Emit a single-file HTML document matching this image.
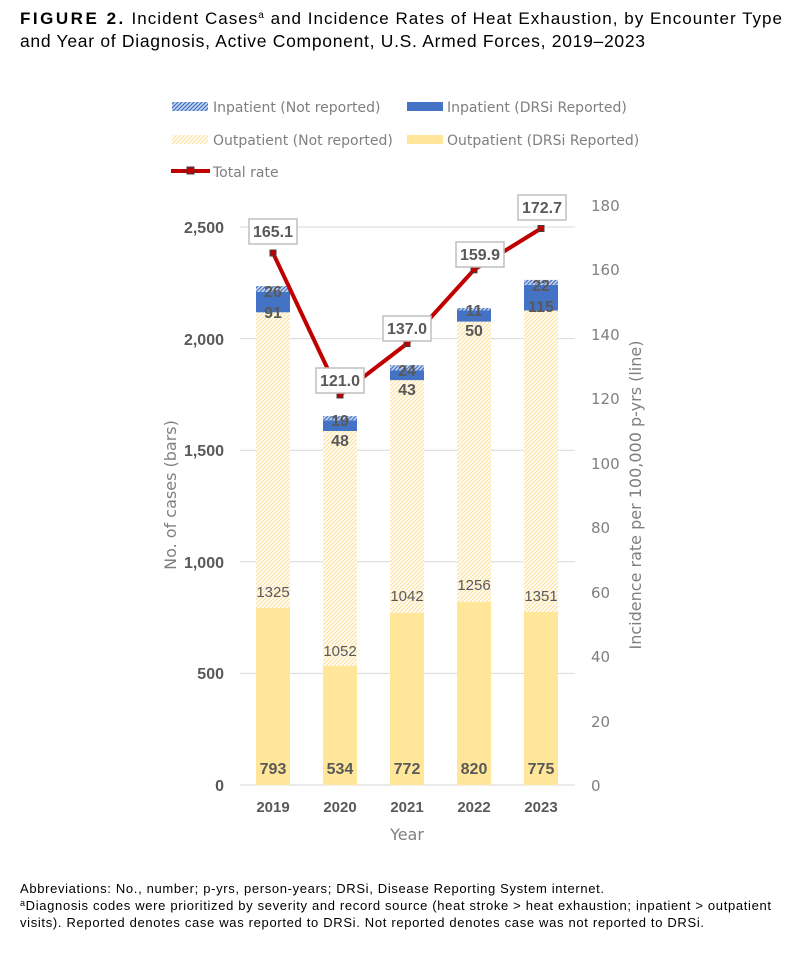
<!DOCTYPE html>
<html><head><meta charset="utf-8"><style>
body{margin:0;background:#fff;width:800px;height:950px;overflow:hidden;font-family:"Liberation Sans",sans-serif}
</style></head><body>
<svg width="800" height="950" xmlns="http://www.w3.org/2000/svg">
<defs>
<pattern id="py" width="4" height="4" patternUnits="userSpaceOnUse"><rect width="4" height="4" fill="#fff"/><path d="M0 4L4 0M-1 1L1 -1M3 5L5 3" stroke="#fde2a0" stroke-width="1.2"/></pattern>
<pattern id="pb" width="4" height="4" patternUnits="userSpaceOnUse"><rect width="4" height="4" fill="#c9d6f0"/><path d="M0 4L4 0M-1 1L1 -1M3 5L5 3" stroke="#4472c4" stroke-width="1.2"/></pattern>
</defs>
<text x="20" y="24" font-size="17" fill="#000" textLength="762" lengthAdjust="spacing"><tspan font-weight="bold" letter-spacing="1.5">FIGURE 2.</tspan> Incident Cases<tspan font-size="10" dy="-6">a</tspan><tspan dy="6"> and Incidence Rates of Heat Exhaustion, by Encounter Type</tspan></text>
<text x="20" y="47" font-size="17.5" fill="#000" textLength="625" lengthAdjust="spacing">and Year of Diagnosis, Active Component, U.S. Armed Forces, 2019–2023</text>
<g font-family="'DejaVu Sans',sans-serif" font-size="14" fill="#7f7f7f">
<rect x="172" y="102" width="36" height="9" fill="url(#pb)"/><text x="213" y="112">Inpatient (Not reported)</text>
<rect x="407" y="102" width="36" height="9" fill="#4472c4"/><text x="447" y="112">Inpatient (DRSi Reported)</text>
<rect x="172" y="135" width="36" height="9" fill="url(#py)"/><text x="213" y="145">Outpatient (Not reported)</text>
<rect x="407" y="135" width="36" height="9" fill="#ffe699"/><text x="447" y="145">Outpatient (DRSi Reported)</text>
<line x1="171" y1="171" x2="210" y2="171" stroke="#c00000" stroke-width="4"/><rect x="187" y="167" width="7" height="7" fill="#c00000" stroke="#404040"/><text x="213" y="177">Total rate</text>
</g>
<g stroke="#d9d9d9" stroke-width="1">
<line x1="240" y1="673.4" x2="575" y2="673.4"/><line x1="240" y1="561.8" x2="575" y2="561.8"/><line x1="240" y1="450.2" x2="575" y2="450.2"/><line x1="240" y1="338.6" x2="575" y2="338.6"/><line x1="240" y1="227" x2="575" y2="227"/>
</g>
<line x1="240" y1="785" x2="575" y2="785" stroke="#d9d9d9"/>
<g font-size="16" font-weight="bold" fill="#595959" text-anchor="end" font-family="'Liberation Sans',sans-serif">
<text x="224" y="791">0</text><text x="224" y="679">500</text><text x="224" y="568">1,000</text><text x="224" y="456">1,500</text><text x="224" y="345">2,000</text><text x="224" y="233">2,500</text>
</g>
<g font-size="15" fill="#7f7f7f" font-family="'DejaVu Sans',sans-serif">
<text x="591" y="791">0</text><text x="591" y="727">20</text><text x="591" y="662">40</text><text x="591" y="598">60</text><text x="591" y="533">80</text><text x="591" y="469">100</text><text x="591" y="404">120</text><text x="591" y="340">140</text><text x="591" y="275">160</text><text x="591" y="211">180</text>
</g>
<text transform="translate(176,495) rotate(-90)" font-size="16" fill="#7f7f7f" text-anchor="middle" font-family="'DejaVu Sans',sans-serif">No. of cases (bars)</text>
<text transform="translate(641,495) rotate(-90)" font-size="16" fill="#7f7f7f" text-anchor="middle" font-family="'DejaVu Sans',sans-serif">Incidence rate per 100,000 p-yrs (line)</text>
<g>
<rect x="256" y="608" width="34" height="177" fill="#ffe699"/><rect x="256" y="312.3" width="34" height="295.7" fill="url(#py)"/><rect x="256" y="291.9" width="34" height="20.4" fill="#4472c4"/><rect x="256" y="286.1" width="34" height="5.8" fill="url(#pb)"/>
<rect x="323" y="665.8" width="34" height="119.2" fill="#ffe699"/><rect x="323" y="431" width="34" height="234.8" fill="url(#py)"/><rect x="323" y="420.3" width="34" height="10.7" fill="#4472c4"/><rect x="323" y="416.1" width="34" height="4.2" fill="url(#pb)"/>
<rect x="390" y="612.7" width="34" height="172.3" fill="#ffe699"/><rect x="390" y="380.1" width="34" height="232.6" fill="url(#py)"/><rect x="390" y="370.5" width="34" height="9.6" fill="#4472c4"/><rect x="390" y="365.2" width="34" height="5.3" fill="url(#pb)"/>
<rect x="457" y="602" width="34" height="183" fill="#ffe699"/><rect x="457" y="321.6" width="34" height="280.4" fill="url(#py)"/><rect x="457" y="310.5" width="34" height="11.1" fill="#4472c4"/><rect x="457" y="308" width="34" height="2.5" fill="url(#pb)"/>
<rect x="524" y="612" width="34" height="173" fill="#ffe699"/><rect x="524" y="310.5" width="34" height="301.5" fill="url(#py)"/><rect x="524" y="284.8" width="34" height="25.7" fill="#4472c4"/><rect x="524" y="279.9" width="34" height="4.9" fill="url(#pb)"/>
</g>
<g font-size="16" font-weight="bold" fill="#595959" text-anchor="middle" font-family="'Liberation Sans',sans-serif">
<text x="273" y="774">793</text><text x="340" y="774">534</text><text x="407" y="774">772</text><text x="474" y="774">820</text><text x="541" y="774">775</text>
</g>
<g font-size="15" fill="#595959" text-anchor="middle" font-family="'Liberation Sans',sans-serif">
<text x="273" y="597">1325</text><text x="340" y="656">1052</text><text x="407" y="601">1042</text><text x="474" y="590">1256</text><text x="541" y="601">1351</text>
</g>
<g font-size="16" font-weight="bold" fill="#595959" text-anchor="middle" font-family="'Liberation Sans',sans-serif">
<text x="273" y="318">91</text><text x="273" y="297">26</text>
<text x="340" y="446">48</text><text x="340" y="426">19</text>
<text x="407" y="395">43</text><text x="407" y="376">24</text>
<text x="474" y="336">50</text><text x="474" y="316">11</text>
<text x="541" y="312">115</text><text x="541" y="291">22</text>
</g>
<polyline points="273,253 340,395 407,343.6 474,269.8 541,228.5" fill="none" stroke="#c00000" stroke-width="4"/>
<g fill="#c00000" stroke="#404040" stroke-width="1">
<rect x="270" y="250" width="6" height="6"/><rect x="337" y="392" width="6" height="6"/><rect x="404" y="340.6" width="6" height="6"/><rect x="471" y="266.8" width="6" height="6"/><rect x="538" y="225.5" width="6" height="6"/>
</g>
<g fill="#fff" stroke="#bfbfbf" stroke-width="1.5">
<rect x="249" y="219" width="48" height="25"/><rect x="316" y="368" width="48" height="25"/><rect x="383" y="316" width="48" height="25"/><rect x="456" y="242" width="48" height="25"/><rect x="518" y="195" width="48" height="25"/>
</g>
<g font-size="16" font-weight="bold" fill="#595959" text-anchor="middle" font-family="'Liberation Sans',sans-serif">
<text x="273" y="237">165.1</text><text x="340" y="386">121.0</text><text x="407" y="334">137.0</text><text x="480" y="260">159.9</text><text x="542" y="213">172.7</text>
</g>
<g font-size="15" font-weight="bold" fill="#595959" text-anchor="middle" font-family="'Liberation Sans',sans-serif">
<text x="273" y="812">2019</text><text x="340" y="812">2020</text><text x="407" y="812">2021</text><text x="474" y="812">2022</text><text x="541" y="812">2023</text>
</g>
<text x="407" y="840" font-size="16" fill="#7f7f7f" text-anchor="middle" font-family="'DejaVu Sans',sans-serif">Year</text>
<g font-size="13" fill="#000">
<text x="20" y="893" textLength="584" lengthAdjust="spacing">Abbreviations: No., number; p-yrs, person-years; DRSi, Disease Reporting System internet.</text>
<text x="20" y="910" textLength="751" lengthAdjust="spacing"><tspan font-size="9" dy="-4">a</tspan><tspan dy="4">Diagnosis codes were prioritized by severity and record source (heat stroke &gt; heat exhaustion; inpatient &gt; outpatient</tspan></text>
<text x="20" y="927" textLength="684" lengthAdjust="spacing">visits). Reported denotes case was reported to DRSi. Not reported denotes case was not reported to DRSi.</text>
</g>
</svg>
</body></html>
